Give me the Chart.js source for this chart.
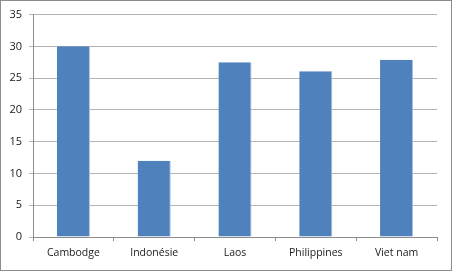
<!DOCTYPE html>
<html>
<head>
<meta charset="utf-8">
<script src="https://cdn.jsdelivr.net/npm/chart.js@4.4.1/dist/chart.umd.min.js"></script>
<style>
    html, body { margin: 0; padding: 0; background: #fff; }
    #cadre {
        width: 452px; height: 271px; box-sizing: border-box;
        border: 1px solid #8c8c8c; background: #fff;
    }
    #cadre canvas { display: block; }
</style>
</head>
<body>
<div id="cadre"><canvas id="graphique" width="450" height="269"></canvas></div>
<script>
// Données
const pays = ['Cambodge', 'Indonésie', 'Laos', 'Philippines', 'Viet nam'];
const valeurs = [30, 12, 27.5, 26.1, 27.9];
const graduations = [0, 5, 10, 15, 20, 25, 30, 35];

const couleurGrille = '#b4b4b4';
const couleurAxe = '#8c8c8c';

new Chart(document.getElementById('graphique').getContext('2d'), {
    type: 'bar',
    data: {
        labels: pays,
        datasets: [{
            data: valeurs,
            backgroundColor: '#4f81bd',
            borderColor: '#a9c1e0',
            borderWidth: { top: 0, left: 0, bottom: 0, right: 1 },
            borderSkipped: false,
            categoryPercentage: 1,
            barPercentage: 0.41
        }]
    },
    options: {
        responsive: false,
        animation: false,
        events: [],
        layout: { padding: { top: 7, right: 14, left: 0, bottom: 0 } },
        plugins: {
            legend: { display: false },
            tooltip: { enabled: false }
        },
        scales: {
            x: {
                afterFit: function (axe) { axe.height = 33; },
                grid: {
                    offset: true,
                    drawOnChartArea: false,
                    drawTicks: true,
                    tickLength: 4,
                    color: couleurAxe
                },
                border: { display: true, color: couleurAxe },
                ticks: {
                    padding: 6,
                    color: '#1a1a1a',
                    font: { family: 'Open Sans', size: 10.5 }
                }
            },
            y: {
                min: graduations[0],
                max: graduations[graduations.length - 1],
                afterFit: function (axe) { axe.width = 32; },
                afterBuildTicks: function (axe) {
                    axe.ticks = graduations.map(v => ({ value: v }));
                },
                grid: {
                    color: couleurGrille,
                    tickLength: 4,
                    drawTicks: true
                },
                border: { display: true, color: couleurAxe },
                ticks: {
                    padding: 7,
                    color: '#1a1a1a',
                    font: { family: 'Open Sans', size: 11 }
                }
            }
        }
    }
});
</script>
</body>
</html>
